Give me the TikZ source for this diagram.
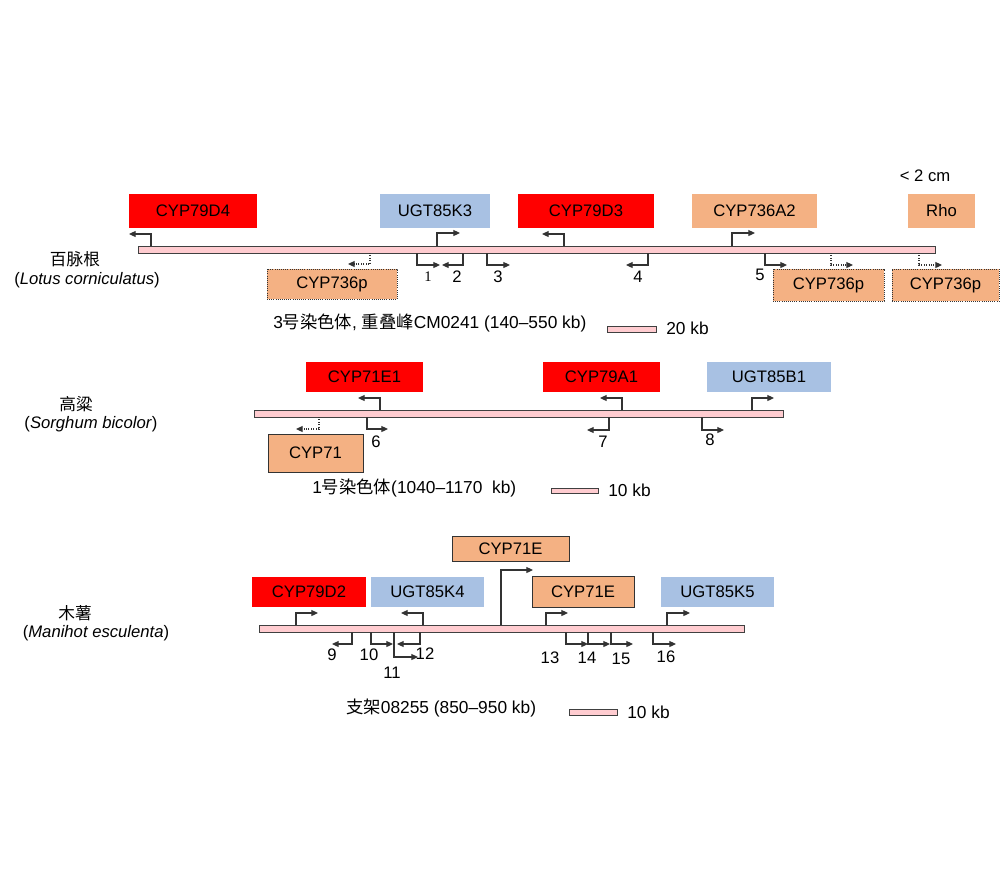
\documentclass[tikz,border=0pt]{standalone}
\usepackage{fontspec}
\setmainfont{Liberation Sans}
\newfontfamily\cjk{Noto Sans CJK SC}
\newfontfamily\numserif{Liberation Serif}
\usetikzlibrary{arrows.meta}

\definecolor{cypred}{RGB}{255,0,0}
\definecolor{cyporange}{RGB}{244,177,131}
\definecolor{ugtblue}{RGB}{168,193,227}
\definecolor{chrompink}{RGB}{255,204,208}

\tikzset{
  gene/.style={inner sep=0pt},
  redgene/.style={gene, fill=cypred},
  orangegene/.style={gene, fill=cyporange},
  bluegene/.style={gene, fill=ugtblue},
  boxgene/.style={gene, fill=cyporange, draw=black!80, line width=0.6pt},
  pseudogene/.style={gene, fill=cyporange, draw=black!80, line width=0.6pt, densely dotted},
  chrom/.style={draw=black!75, fill=chrompink, line width=0.6pt},
  prom/.style={draw=black!80, line width=0.8pt, -{Triangle[length=5pt,width=4.5pt]}},
  promp/.style={prom, densely dotted},
  num/.style={inner sep=0pt},
  caption/.style={anchor=west, inner sep=0pt, font=\fontsize{13}{15}\selectfont},
}

\begin{document}
\begin{tikzpicture}[x=0.75pt, y=-0.75pt, font=\fontsize{12.5}{15}\selectfont]
    \useasboundingbox (0,0) rectangle (1000,876);

    % Lotus corniculatus
    \node (lotuscn) at (75,259) {\cjk 百脉根};
    \node (lotus) at (87,280) {(\textit{Lotus corniculatus})};
    \node (scale) at (925,176) {< 2 cm};

    \node[redgene, minimum width=96pt, minimum height=25.5pt] (cyp79d4) at (193,211) {CYP79D4};
    \node[bluegene, minimum width=82.5pt, minimum height=25.5pt] (ugt85k3) at (435,211) {UGT85K3};
    \node[redgene, minimum width=102pt, minimum height=25.5pt] (cyp79d3) at (586,211) {CYP79D3};
    \node[orangegene, minimum width=93.75pt, minimum height=25.5pt] (cyp736a2) at (754.5,211) {CYP736A2};
    \node[orangegene, minimum width=50.25pt, minimum height=25.5pt] (rho) at (941.5,211) {Rho};
    \node[pseudogene, minimum width=97.5pt, minimum height=22.5pt] (cyp736pa) at (332,284) {CYP736p};
    \node[pseudogene, minimum width=83.25pt, minimum height=24pt] (cyp736pb) at (828.5,285) {CYP736p};
    \node[pseudogene, minimum width=80.25pt, minimum height=24pt] (cyp736pc) at (945.5,285) {CYP736p};

    \draw[chrom] (138,246) rectangle (935,253);

    \draw[prom] (151,246) |- (129,234);
    \draw[prom] (437,246) |- (460,233);
    \draw[prom] (564,246) |- (542,234);
    \draw[prom] (732,246) |- (755,233);
    \draw[promp] (370,253) |- (348,264);
    \draw[prom] (417,253) |- (440,265);
    \draw[prom] (463,253) |- (442,265);
    \draw[prom] (487,253) |- (510,265);
    \draw[prom] (648,253) |- (626,265);
    \draw[prom] (765,253) |- (787,265);
    \draw[promp] (831,253) |- (853,265);
    \draw[promp] (919,253) |- (942,265);

    \node[num, font=\numserif\fontsize{11}{13}\selectfont] (n1) at (428,277) {1};
    \node[num] (n2) at (457,277) {2};
    \node[num] (n3) at (498,277) {3};
    \node[num] (n4) at (638,277) {4};
    \node[num] (n5) at (760,275) {5};

    \node[caption] (lotuschr) at (273,323) {3{\cjk 号染色体}, {\cjk 重叠峰}CM0241 (140–550 kb)};
    \draw[chrom] (607,326) rectangle (656,332);
    \node[caption] (lotuskb) at (666,328) {20 kb};

    % Sorghum bicolor
    \node (sorghumcn) at (76,404) {\cjk 高粱};
    \node (sorghum) at (91,424) {(\textit{Sorghum bicolor})};

    \node[redgene, minimum width=87.75pt, minimum height=22.5pt] (cyp71e1) at (364.5,377) {CYP71E1};
    \node[redgene, minimum width=87.75pt, minimum height=22.5pt] (cyp79a1) at (601.5,377) {CYP79A1};
    \node[bluegene, minimum width=93pt, minimum height=22.5pt] (ugt85b1) at (769,377) {UGT85B1};
    \node[boxgene, minimum width=71.25pt, minimum height=28.5pt] (cyp71) at (315.5,453) {CYP71};

    \draw[chrom] (254,410) rectangle (783,417);

    \draw[prom] (380,410) |- (358,398);
    \draw[prom] (622,410) |- (600,398);
    \draw[prom] (752,410) |- (774,398);
    \draw[promp] (319,417) |- (296,429);
    \draw[prom] (367,417) |- (388,429);
    \draw[prom] (609,417) |- (587,430);
    \draw[prom] (702,417) |- (724,430);

    \node[num] (n6) at (376,442) {6};
    \node[num] (n7) at (603,442) {7};
    \node[num] (n8) at (710,440) {8};

    \node[caption] (sorghumchr) at (312,488) {1{\cjk 号染色体}(1040–1170~~kb)};
    \draw[chrom] (551,488) rectangle (598,493);
    \node[caption] (sorghumkb) at (608,490) {10 kb};

    % Manihot esculenta
    \node (manihotcn) at (75,613) {\cjk 木薯};
    \node (manihot) at (96,633) {(\textit{Manihot esculenta})};

    \node[boxgene, minimum width=87.75pt, minimum height=18.75pt] (cyp71ea) at (510.5,548.5) {CYP71E};
    \node[redgene, minimum width=85.5pt, minimum height=22.5pt] (cyp79d2) at (309,592) {CYP79D2};
    \node[bluegene, minimum width=84.75pt, minimum height=22.5pt] (ugt85k4) at (427.5,592) {UGT85K4};
    \node[boxgene, minimum width=76.5pt, minimum height=23.25pt] (cyp71eb) at (583,591.5) {CYP71E};
    \node[bluegene, minimum width=84.75pt, minimum height=22.5pt] (ugt85k5) at (717.5,592) {UGT85K5};

    \draw[chrom] (259,625) rectangle (744,632);

    \draw[prom] (296,625) |- (318,613);
    \draw[prom] (423,625) |- (401,613);
    \draw[prom] (501,625) |- (533,570);
    \draw[prom] (546,625) |- (568,613);
    \draw[prom] (667,625) |- (690,613);
    \draw[prom] (352,632) |- (332,644);
    \draw[prom] (371,632) |- (393,644);
    \draw[prom] (394,632) |- (418,657);
    \draw[prom] (420,632) |- (397,644);
    \draw[prom] (566,632) |- (588,644);
    \draw[prom] (588,632) |- (610,644);
    \draw[prom] (611,632) |- (633,644);
    \draw[prom] (653,632) |- (676,644);

    \node[num] (n9) at (332,655) {9};
    \node[num] (n10) at (369,655) {10};
    \node[num] (n11) at (392,673) {11};
    \node[num] (n12) at (425,654) {12};
    \node[num] (n13) at (550,658) {13};
    \node[num] (n14) at (587,658) {14};
    \node[num] (n15) at (621,659) {15};
    \node[num] (n16) at (666,657) {16};

    \node[caption] (manihotchr) at (346,708) {{\cjk 支架}08255 (850–950 kb)};
    \draw[chrom] (569,709) rectangle (617,715);
    \node[caption] (manihotkb) at (627,712) {10 kb};
\end{tikzpicture}
\end{document}
